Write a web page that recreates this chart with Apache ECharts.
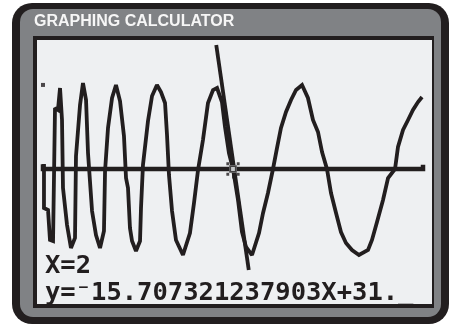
<!DOCTYPE html>
<html>
<head>
<meta charset="utf-8">
<script src="https://cdn.jsdelivr.net/npm/echarts@6/dist/echarts.min.js"></script>
<style>html,body{margin:0;padding:0;background:#fff;}#c{width:449px;height:325px;}</style>
</head>
<body>
<div id="c"></div>
<script>
// ---- data (window X 0..4, Y -3..3) ----
const curveX = [0.081,0.081,0.122,0.142,0.173,0.183,0.193,0.223,0.244,0.264,0.274,0.315,0.355,0.396,0.406,0.447,0.477,0.508,0.528,0.569,0.609,0.650,0.670,0.690,0.701,0.731,0.772,0.812,0.853,0.893,0.914,0.934,0.954,0.975,1.015,1.056,1.066,1.086,1.137,1.178,1.228,1.269,1.310,1.330,1.350,1.381,1.421,1.492,1.563,1.604,1.645,1.695,1.746,1.797,1.838,1.888,1.919,1.959,2.000,2.051,2.091,2.132,2.193,2.264,2.305,2.355,2.406,2.447,2.487,2.538,2.589,2.640,2.701,2.761,2.812,2.863,2.904,2.954,2.995,3.046,3.096,3.147,3.208,3.279,3.371,3.411,3.462,3.523,3.574,3.645,3.675,3.726,3.777,3.827,3.878,3.919];
const curveY = [0.115,-0.900,-0.946,-1.638,-1.662,-1.638,1.408,1.362,1.869,1.131,-0.438,-1.292,-1.823,-1.592,0.300,1.477,1.985,1.592,0.369,-0.969,-1.523,-1.823,-1.823,-1.431,-0.046,0.946,1.638,1.939,1.569,0.762,-0.208,-0.438,-1.362,-1.662,-1.892,-1.662,-0.900,0.092,1.108,1.685,1.939,1.777,1.523,0.785,-0.138,-0.969,-1.638,-1.985,-1.477,-0.785,-0.023,0.669,1.523,1.823,1.869,1.546,0.969,0.369,0,-0.715,-1.454,-1.800,-1.985,-1.477,-1.015,-0.554,0,0.485,0.946,1.315,1.592,1.823,1.939,1.639,1.131,0.854,0.392,0,-0.554,-1.015,-1.454,-1.708,-1.869,-1.985,-1.869,-1.638,-1.223,-0.715,-0.208,0,0.508,0.900,1.131,1.362,1.546,1.662];
const strayDot = [0.071, 1.94];
const tangentX = [1.83, 2.16];
const tangentY = [2.86, -2.33];
const traceX = 2;
const traceY = 0;
const axisX = [0.071, 0.071, 3.929, 3.929];
const axisY = [0.11, 0, 0, 0.1];
const titleText = 'GRAPHING CALCULATOR';
const line1Text = 'X=2';
const line2Text = 'y=\u207B15.707321237903X+31._';

const zip = (a, b) => a.map((v, i) => [v, b[i]]);
const INK = '#221e1f';
const SCREEN = '#eef0f2';

const cursorPath = 'path://M9,0h2v5h-2zM9,15h2v5h-2zM0,9h5v2h-5zM15,9h5v2h-5zM3,3h3v3h-3zM14,3h3v3h-3zM3,14h3v3h-3zM14,14h3v3h-3zM6,6h8v2h-8zM6,12h8v2h-8zM6,8h2v4h-2zM12,8h2v4h-2z';

const chart = echarts.init(document.getElementById('c'), null, {renderer: 'canvas'});
chart.setOption({
  animation: false,
  backgroundColor: '#ffffff',
  grid: {left: 36, width: 394, top: 39, height: 260},
  xAxis: {type: 'value', min: 0, max: 4, show: false},
  yAxis: {type: 'value', min: -3, max: 3, show: false},
  graphic: [
    {type: 'rect', z: -10, shape: {x: 12, y: 3, width: 437, height: 321, r: 20}, style: {fill: INK}},
    {type: 'rect', z: -9, shape: {x: 20, y: 9, width: 421, height: 308, r: 13}, style: {fill: '#808285'}},
    {type: 'rect', z: -8, shape: {x: 33, y: 36, width: 401, height: 272}, style: {fill: INK}},
    {type: 'rect', z: -7, shape: {x: 37, y: 40, width: 395, height: 264}, style: {fill: SCREEN}},
    {type: 'text', z: 50, style: {x: 34, y: 14, text: titleText, fill: '#f6f6f6', font: 'bold 16px "Liberation Sans", Arial, sans-serif', verticalAlign: 'top'}},
    {type: 'text', z: 50, style: {x: 45, y: 253, text: line1Text, fill: INK, font: 'bold 25.5px "DejaVu Sans Mono", monospace', verticalAlign: 'top'}},
    {type: 'text', z: 50, style: {x: 45, y: 280, text: line2Text, fill: INK, font: 'bold 25.5px "DejaVu Sans Mono", monospace', verticalAlign: 'top'}}
  ],
  series: [
    {type: 'line', data: zip(axisX, axisY), showSymbol: false, silent: true, z: 3,
     lineStyle: {color: INK, width: 4.5, join: 'miter'}},
    {type: 'line', data: zip(curveX, curveY), showSymbol: false, silent: true, z: 4,
     lineStyle: {color: INK, width: 3.8, join: 'miter', miterLimit: 2}},
    {type: 'line', data: zip(tangentX, tangentY), showSymbol: false, silent: true, z: 5,
     lineStyle: {color: INK, width: 3.8}},
    {type: 'scatter', data: [strayDot], symbol: 'rect', symbolSize: 4, silent: true, z: 6,
     itemStyle: {color: INK}},
    {type: 'scatter', data: [[traceX, traceY]], symbol: 'rect', symbolSize: 8, silent: true, z: 7,
     itemStyle: {color: SCREEN}},
    {type: 'scatter', data: [[traceX, traceY]], symbol: cursorPath, symbolSize: 19, silent: true, z: 8,
     itemStyle: {color: INK}}
  ]
});
</script>
</body>
</html>
